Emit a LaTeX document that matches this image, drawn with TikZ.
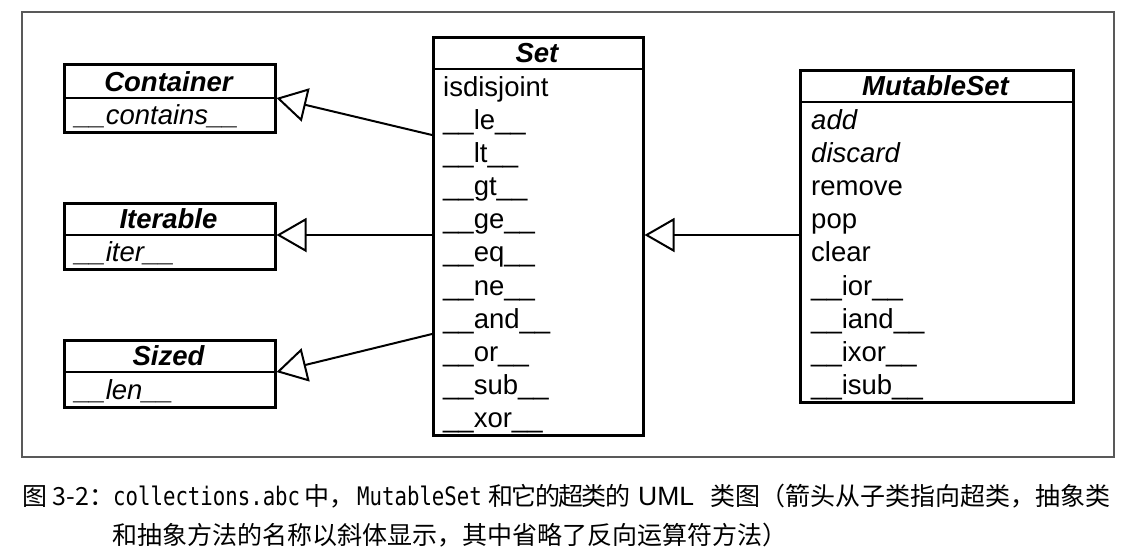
\documentclass[tikz,border=0pt]{standalone}
\usepackage{fontspec}
\setmainfont{Liberation Sans}
\newfontfamily\cjk{Noto Sans CJK SC}
\newfontfamily\capmono[FakeStretch=0.812]{DejaVu Sans Mono}
\usetikzlibrary{arrows.meta}
\begin{document}
\begin{tikzpicture}[x=1pt,y=-1pt,
  classbox/.style={draw, line width=2.5pt, inner sep=0pt, anchor=north west},
  divider/.style={line width=2pt},
  ctitle/.style={font=\fontsize{27.5}{33}\selectfont\bfseries\itshape, inner sep=0pt, anchor=base},
  meth/.style={font=\fontsize{27.5}{33}\selectfont, inner sep=0pt, anchor=base west},
  ameth/.style={font=\fontsize{27.5}{33}\selectfont\itshape, inner sep=0pt, anchor=base west},
  inherit/.style={line width=2pt, -{Triangle[open, length=30pt, width=34pt, line width=2pt]}},
  captext/.style={font=\cjk\fontsize{25}{30}\selectfont, inner sep=0pt, anchor=base west},
  capcode/.style={font=\capmono\fontsize{25.5}{30}\selectfont, inner sep=0pt, anchor=base west},
  caplatin/.style={font=\fontsize{26.5}{30}\selectfont, inner sep=0pt, anchor=base west},
]
\useasboundingbox (0,0) rectangle (1142,555);
\fill[white] (0,0) rectangle (1142,555);
\draw[black!65, line width=1.3pt] (22,12) rectangle (1114,457);

% Container
\node[classbox, minimum width=211pt, minimum height=68pt] (container) at (63,63) {};
\draw[divider] (container.west |- 0,98) -- (container.east |- 0,98);
\node[ctitle] (container-t) at (168.5,91) {Container};
\node[ameth] (container-m) at (75,124.5) {\_\_contains\_\_};

% Iterable
\node[classbox, minimum width=211pt, minimum height=66pt] (iterable) at (63,202) {};
\draw[divider] (iterable.west |- 0,235) -- (iterable.east |- 0,235);
\node[ctitle] (iterable-t) at (168.5,228.8) {Iterable};
\node[ameth] (iterable-m) at (75,261.5) {\_\_iter\_\_};

% Sized
\node[classbox, minimum width=211pt, minimum height=67pt] (sized) at (63,339) {};
\draw[divider] (sized.west |- 0,372) -- (sized.east |- 0,372);
\node[ctitle] (sized-t) at (168.5,365.8) {Sized};
\node[ameth] (sized-m) at (75,399) {\_\_len\_\_};

% Set
\node[classbox, minimum width=210pt, minimum height=398pt] (set) at (432,36) {};
\draw[divider] (set.west |- 0,69) -- (set.east |- 0,69);
\node[ctitle] (set-t) at (537,62.8) {Set};
\foreach \m [count=\i from 0] in {isdisjoint,\_\_le\_\_,\_\_lt\_\_,\_\_gt\_\_,\_\_ge\_\_,\_\_eq\_\_,\_\_ne\_\_,\_\_and\_\_,\_\_or\_\_,\_\_sub\_\_,\_\_xor\_\_}
  \node[meth] (set-\i) at (443,{69+33.18*(\i+0.5)+10.5}) {\m};

% MutableSet
\node[classbox, minimum width=273pt, minimum height=332pt] (mutable) at (799,69) {};
\draw[divider] (mutable.west |- 0,102) -- (mutable.east |- 0,102);
\node[ctitle] (mutable-t) at (935.5,95.8) {MutableSet};
\node[ameth] (mutable-0) at (811,{102+33.2*0.5+10.5}) {add};
\node[ameth] (mutable-1) at (811,{102+33.2*1.5+10.5}) {discard};
\foreach \m [count=\i from 2] in {remove,pop,clear,\_\_ior\_\_,\_\_iand\_\_,\_\_ixor\_\_,\_\_isub\_\_}
  \node[meth] (mutable-\i) at (811,{102+33.2*(\i+0.5)+10.5}) {\m};

% connectors
\coordinate (s1) at (set.west |- 0,135);
\coordinate (s2) at (set.west |- 0,235);
\coordinate (s3) at (set.west |- 0,334);
\coordinate (se) at (set.east |- 0,235);
\coordinate (c1) at (container.east |- 0,98);
\coordinate (c2) at (iterable.east |- 0,235);
\coordinate (c3) at (sized.east |- 0,372);
\coordinate (m1) at (mutable.west |- 0,235);
\draw[inherit] (s1) -- (c1);
\draw[inherit] (s2) -- (c2);
\draw[inherit] (s3) -- (c3);
\draw[inherit] (m1) -- (se);

% caption
\node[captext] (cap-fig) at (22,505) {图 3-2：};
\node[capcode] (cap-code1) at (113,505) {collections.abc};
\node[captext] (cap-zh1) at (304,505) {中，};
\node[capcode] (cap-code2) at (357,505) {MutableSet};
\node[captext] (cap-zh2) at (488,505) {和\kern-1.6pt 它\kern-1.6pt 的\kern-1.6pt 超\kern-1.6pt 类\kern-1.6pt 的};
\node[caplatin] (cap-uml) at (638,505) {UML};
\node[captext] (cap-zh3) at (710,505) {类图（箭头从子类指向超类，抽象类};
\node[captext] (cap-line2) at (112,544) {和抽象方法的名称以斜体显示，其中省略了反向运算符方法）};
\end{tikzpicture}
\end{document}
